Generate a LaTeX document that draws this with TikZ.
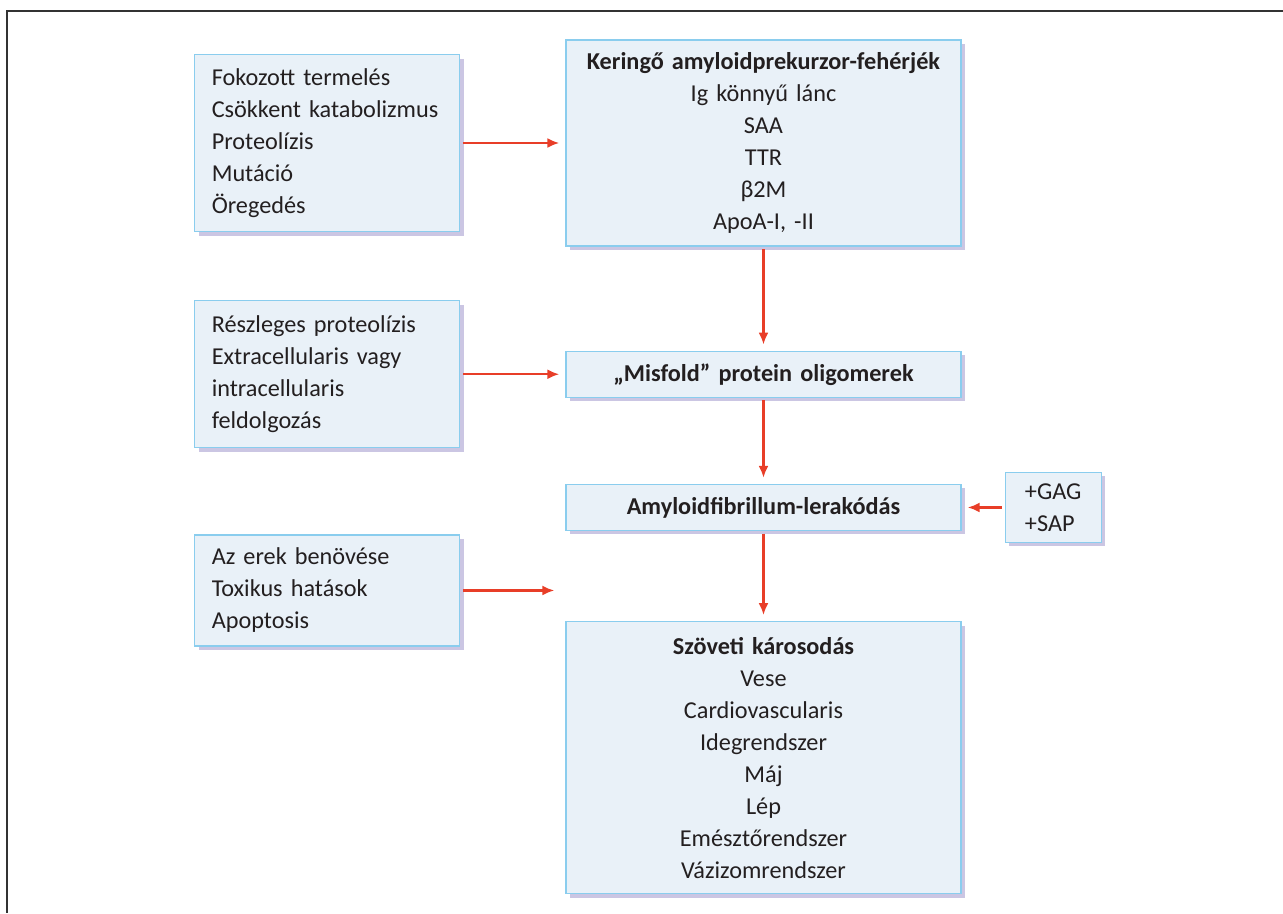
\documentclass[tikz,border=0pt]{standalone}
\usepackage{fontspec}
\setmainfont{Carlito}[WordSpace=0.72]
\usepackage{xcolor}
\usepackage{tikz}
\usetikzlibrary{positioning,arrows.meta,calc,shadows}
\definecolor{boxfill}{RGB}{233,241,248}
\definecolor{boxline}{RGB}{138,205,238}
\definecolor{shadowlav}{RGB}{203,198,227}
\definecolor{arrred}{RGB}{232,62,40}
\definecolor{txt}{RGB}{35,31,32}

\begin{document}
\begin{tikzpicture}[
  font=\fontsize{13.8}{18.2}\selectfont,
  text=txt,
  box/.style={draw=boxline,line width=0.7pt,fill=boxfill,
    drop shadow={shadow xshift=0.08cm,shadow yshift=-0.08cm,fill=shadowlav,opacity=1}},
  cbox/.style={box,align=center,minimum width=7.9cm,text width=7.5cm},
  lbox/.style={box,align=left,minimum width=5.3cm,text width=4.62cm,inner xsep=0.34cm},
  ar/.style={-{Latex[length=2.4mm,width=2mm]},arrred,line width=1.4pt,
    shorten <=0.05cm,shorten >=0.12cm},
  node distance=2.1cm and 2.1cm,
]
\useasboundingbox (0,0) rectangle (25.66,-18.26);
\draw[black!80,line width=0.8pt] (25.66,-0.22) -- (0.14,-0.22) -- (0.14,-18.26);
% main column
\node[cbox,minimum height=4.12cm] (kering) at (15.27,-2.86)
 {\textbf{Keringő amyloidprekurzor-fehérjék}\\Ig könnyű lánc\\SAA\\TTR\\β2M\\ApoA-I, -II};
\node[cbox,minimum height=0.92cm,below=2.08cm of kering] (misfold)
 {\textbf{„Misfold” protein oligomerek}};
\node[cbox,minimum height=0.92cm,below=1.72cm of misfold] (amyl)
 {\textbf{Amyloidfibrillum-lerakódás}};
\node[cbox,minimum height=5.44cm,below=1.8cm of amyl] (szov)
 {\textbf{Szöveti károsodás}\\Vese\\Cardiovascularis\\Idegrendszer\\Máj\\Lép\\Emésztőrendszer\\Vázizomrendszer};
% side boxes
\node[lbox,minimum height=3.54cm,left=of kering] (fokoz)
 {Fokozott termelés\\Csökkent katabolizmus\\Proteolízis\\Mutáció\\Öregedés};
\node[lbox,minimum height=2.94cm,left=of misfold] (reszl)
 {Részleges proteolízis\\Extracellularis vagy\\intracellularis\\feldolgozás};
\node[lbox,minimum height=2.22cm,below=1.72cm of reszl] (erek)
 {Az erek benövése\\Toxikus hatások\\Apoptosis};
\node[box,align=left,minimum width=1.92cm,minimum height=1.4cm,inner xsep=0.2cm,
  right=0.86cm of amyl] (gag) {+GAG\\+SAP};
\coordinate (erekend) at ($(erek.east)+(2.0cm,0)$);
% connectors
\draw[ar] (fokoz) -- (kering);
\draw[ar] (reszl) -- (misfold);
\draw[ar] (erek.east) -- (erekend);
\draw[ar] (kering) -- (misfold);
\draw[ar] (misfold) -- (amyl);
\draw[ar] (amyl) -- (szov);
\draw[ar] (gag) -- (amyl);
\end{tikzpicture}
\end{document}
